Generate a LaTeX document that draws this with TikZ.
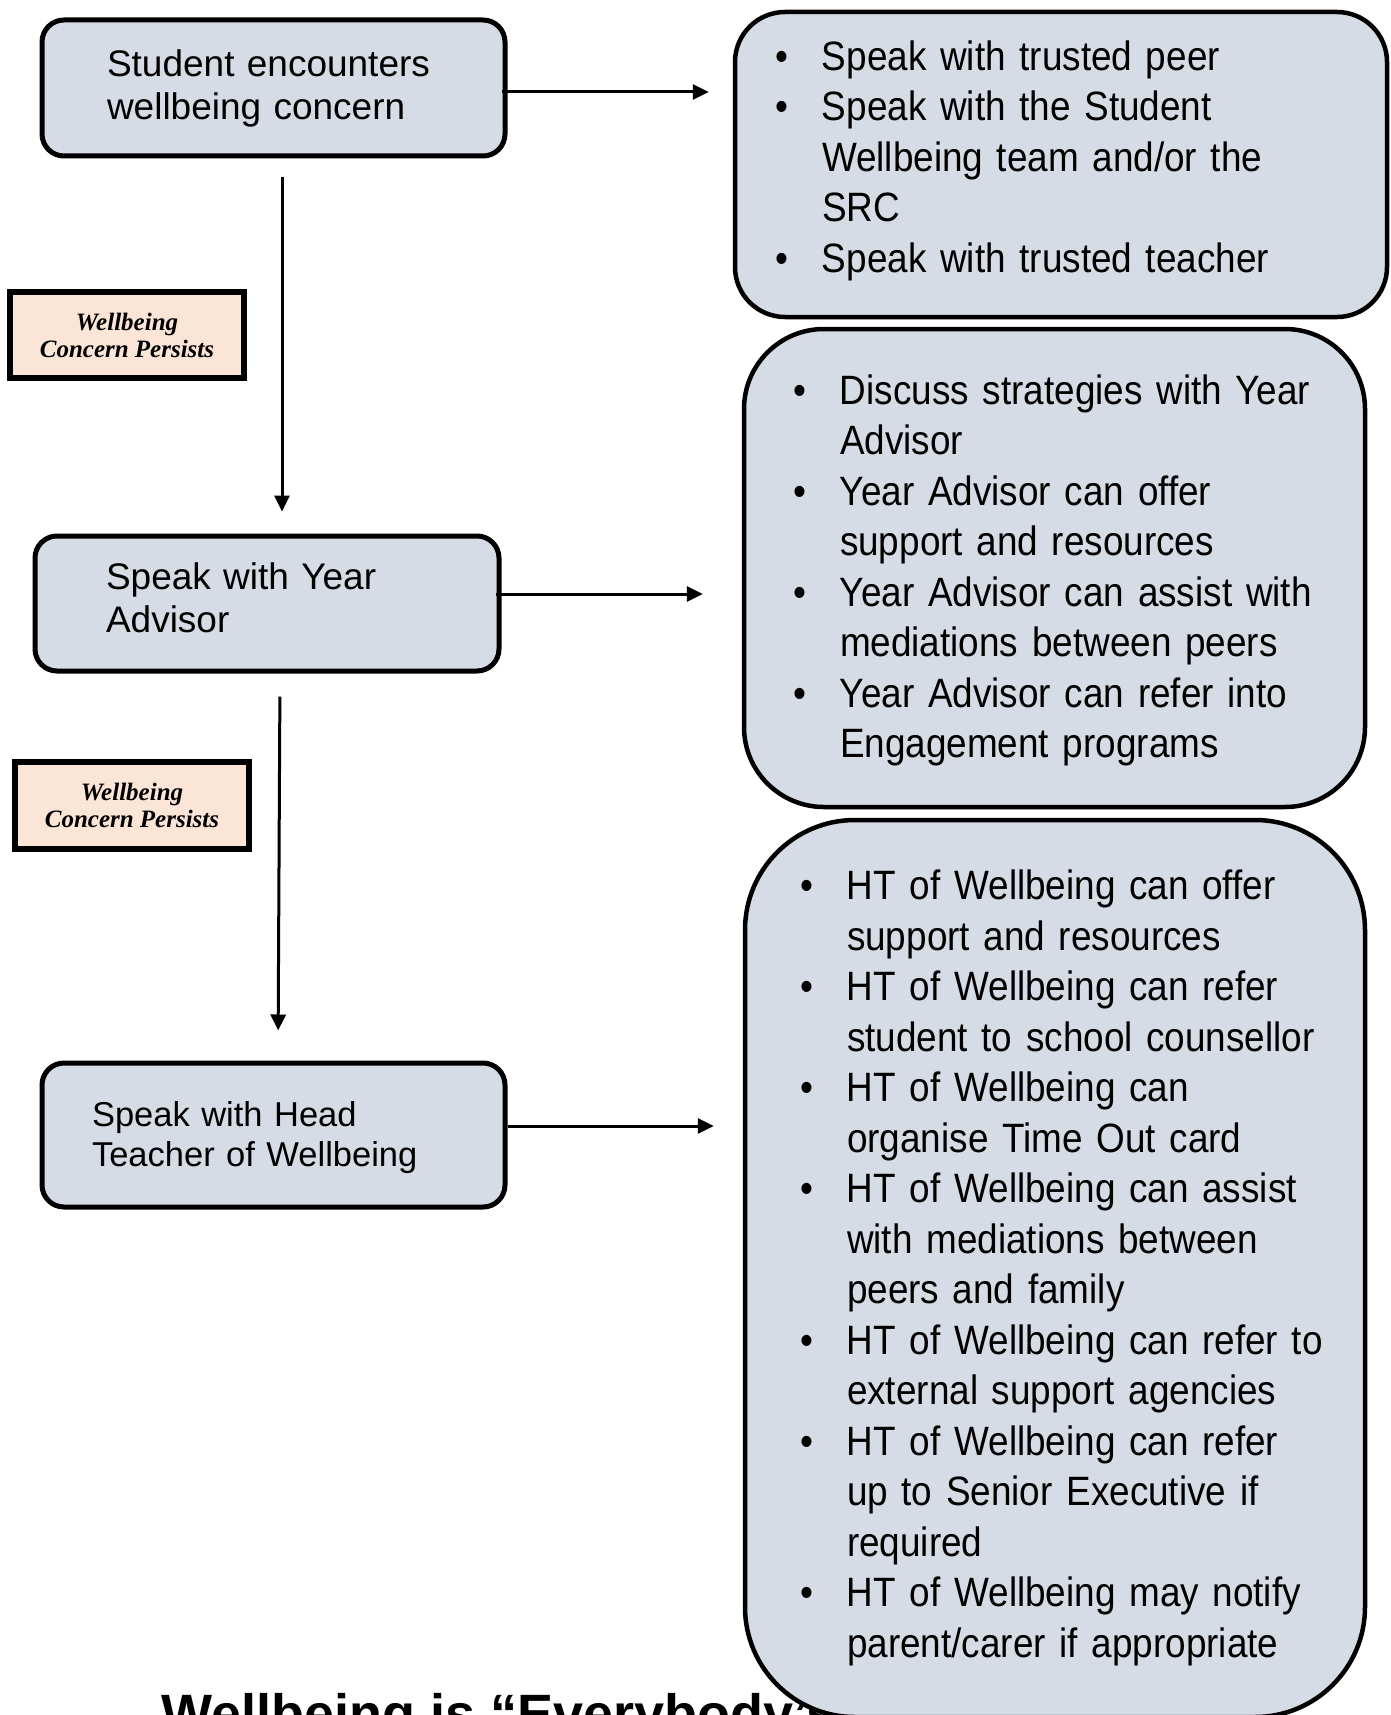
\documentclass[tikz,border=0pt]{standalone}
\usepackage{fontspec}
\setmainfont{Liberation Sans}
\newfontfamily\narrowfont{Liberation Sans}[FakeStretch=0.9,WordSpace=0.85]
\newfontfamily\tagfont{Liberation Serif}
\usetikzlibrary{arrows.meta}
\definecolor{boxblue}{HTML}{D6DCE5}
\definecolor{tagpeach}{HTML}{FBE5D6}
\newcommand{\itm}{\par\noindent\hangindent=47pt\hangafter=1\makebox[47pt][l]{\textbullet}}

\begin{document}
\begin{tikzpicture}[x=1pt,y=-1pt,
		stepbox/.style={draw,line width=5pt,fill=boxblue,rounded corners=22pt,inner sep=0pt,align=left,font=\fontsize{37}{43}\selectfont},
		listbox/.style={draw,line width=4.5pt,fill=boxblue,inner sep=0pt,align=left,font=\narrowfont\fontsize{41}{50.5}\selectfont},
		tagbox/.style={draw,line width=5.5pt,fill=tagpeach,inner sep=0pt,align=center,font=\tagfont\bfseries\itshape\fontsize{25}{27}\selectfont},
		flow/.style={line width=3pt,-{Triangle[length=16pt,width=15pt]}}]
			\pgfmathsetmacro{\stepw}{463}
			\useasboundingbox (0,0) rectangle (1391,1715);
			\clip (0,0) rectangle (1391,1715);
			\node[anchor=base west,inner sep=0pt,font=\bfseries\fontsize{54}{60}\selectfont] (title) at (161,1732) {Wellbeing is “Everybody’s};
			\node[stepbox,minimum width=\stepw pt,minimum height=136pt,text width=\stepw pt] (student) at (273.5,88) {\leftskip=65pt Student encounters\newline wellbeing concern\par};
			\node[stepbox,minimum width=464pt,minimum height=135pt,text width=464pt] (advisor) at (267,603.5) {\leftskip=71pt Speak with Year\newline Advisor\rule[-11pt]{0pt}{0pt}\par};
			\node[stepbox,minimum width=\stepw pt,minimum height=144pt,text width=\stepw pt,font=\fontsize{34.5}{40}\selectfont] (headteacher) at (273.5,1135) {\leftskip=50pt\rule{0pt}{31pt}Speak with Head\newline Teacher of Wellbeing\par};
			\node[tagbox,minimum width=234pt,minimum height=86pt] (persists1) at (127,335) {Wellbeing\\Concern Persists};
			\node[tagbox,minimum width=234pt,minimum height=87pt] (persists2) at (132,805.5) {Wellbeing\\Concern Persists};
			\node[listbox,rounded corners=50pt,minimum width=652pt,minimum height=305pt,text width=652pt] (peer) at (1061,164.5) {\leftskip=40pt
				\itm Speak with trusted peer
				\itm Speak with the Student\newline Wellbeing team and/or the\newline SRC
				\itm Speak with trusted teacher\rule[-37pt]{0pt}{0pt}\par};
			\node[listbox,rounded corners=80pt,minimum width=621pt,minimum height=478pt,text width=621pt] (yearhelp) at (1054.5,568) {\leftskip=49pt
				\itm Discuss strategies with Year\newline Advisor
				\itm Year Advisor can offer\newline support and resources
				\itm Year Advisor can assist with\newline mediations between peers
				\itm Year Advisor can refer into\newline Engagement programs\rule[-25pt]{0pt}{0pt}\par};
			\node[listbox,rounded corners=110pt,minimum width=620pt,minimum height=897pt,text width=620pt] (hthelp) at (1055,1268.5) {\leftskip=55pt
				\itm HT of Wellbeing can offer\newline support and resources
				\itm HT of Wellbeing can refer\newline student to school counsellor
				\itm HT of Wellbeing can\newline organise Time Out card
				\itm HT of Wellbeing can assist\newline with mediations between\newline peers and family
				\itm HT of Wellbeing can refer to\newline external support agencies
				\itm HT of Wellbeing can refer\newline up to Senior Executive if\newline required
				\itm HT of Wellbeing may notify\newline parent/carer if appropriate\rule[-31pt]{0pt}{0pt}\par};
			\draw[flow,shorten <=19pt,shorten >=22pt] ([xshift=8.5pt]student.south) -- ([xshift=15pt]advisor.north);
			\draw[flow,shorten <=23pt,shorten >=30pt] ([xshift=13pt]advisor.south) -- ([xshift=4.5pt]headteacher.north);
			\draw[flow,shorten >=24pt] ([xshift=-6pt,yshift=-4pt]student.east) -- ([yshift=72.5pt]peer.west);
			\draw[flow,shorten >=39pt] ([xshift=-6pt,yshift=9.5pt]advisor.east) -- ([yshift=-26pt]yearhelp.west);
			\draw[flow,shorten >=29pt] ([yshift=9pt]headteacher.east) -- ([yshift=142.5pt]hthelp.west);
		\end{tikzpicture}
\end{document}
